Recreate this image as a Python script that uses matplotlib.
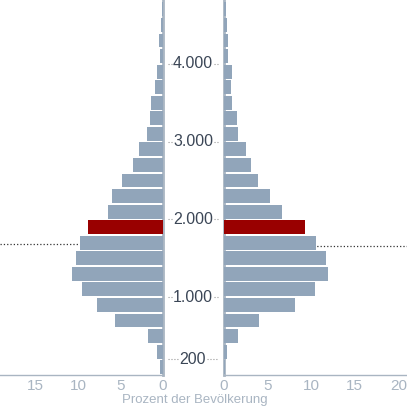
import numpy as np
import matplotlib.pyplot as plt

plt.rcParams['font.family'] = ['Liberation Sans', 'DejaVu Sans']

bin_start = np.arange(0, 4800, 200)
left_vals = [0.4, 0.7, 1.8, 5.7, 7.8, 9.5, 10.7, 10.3, 9.8, 8.8, 6.5, 6.0,
             4.8, 3.5, 2.8, 1.9, 1.5, 1.4, 1.0, 0.7, 0.35, 0.45, 0.25, 0.15]
right_vals = [0.1, 0.3, 1.6, 4.0, 8.2, 10.4, 11.9, 11.7, 10.5, 9.3, 6.7, 5.3,
              3.9, 3.1, 2.5, 1.6, 1.5, 0.9, 0.8, 0.9, 0.45, 0.5, 0.35, 0.25]
highlight = 1800
mid_ticks = [200, 1000, 2000, 3000, 4000]
mid_labels = ["200", "1.000", "2.000", "3.000", "4.000"]
left_mean = 1690
right_mean = 1660

bar_col = '#91a5ba'
red_col = '#990000'
grey = '#a9b5c2'
W = 407.0

fig = plt.figure(figsize=(4.07, 4.07), dpi=100)
bottom = 32 / W
height = 375 / W
axl = fig.add_axes([0, bottom, 163 / W, height])
axr = fig.add_axes([224 / W, bottom, 183 / W, height])

colors = [red_col if b == highlight else bar_col for b in bin_start]
axl.barh(bin_start + 100, left_vals, height=178, color=colors, zorder=3)
axr.barh(bin_start + 100, right_vals, height=178, color=colors, zorder=3)

axl.set_xlim(19.2, 0)
axr.set_xlim(0, 21)
for ax in (axl, axr):
    ax.set_ylim(0, 4820)
    ax.set_yticks([])
    ax.tick_params(axis='x', length=0, labelsize=11, labelcolor=grey, pad=3)
    ax.spines['top'].set_visible(False)
    ax.spines['bottom'].set_color(grey)
    ax.spines['bottom'].set_linewidth(1)
axl.set_xticks([0, 5, 10, 15])
axr.set_xticks([0, 5, 10, 15, 20])
axl.spines['left'].set_visible(False)
axl.spines['right'].set_color(grey)
axl.spines['right'].set_linewidth(2)
axr.spines['right'].set_visible(False)
axr.spines['left'].set_color(grey)
axr.spines['left'].set_linewidth(2)

axl.axhline(left_mean, color='#333333', lw=0.9, ls=':', zorder=2)
axr.axhline(right_mean, color='#333333', lw=0.9, ls=':', zorder=2)

# middle labels with dotted leaders on both sides
for t, lab in zip(mid_ticks, mid_labels):
    yf = bottom + height * t / 4820
    fig.text(193 / W, yf, lab, ha='center', va='center', fontsize=11.5,
             color='#3b4656')
    half = 4 + 3.3 * len(lab)
    fig.add_artist(plt.Line2D([168 / W, (193 - half) / W], [yf, yf],
                              color='#999999', lw=0.8, ls=':'))
    fig.add_artist(plt.Line2D([(193 + half) / W, 218 / W], [yf, yf],
                              color='#999999', lw=0.8, ls=':'))

fig.text(195 / W, 7 / W, "Prozent der Bevölkerung", ha='center', va='center',
         fontsize=9.5, color=grey)

fig.savefig('out.png', dpi=100)
